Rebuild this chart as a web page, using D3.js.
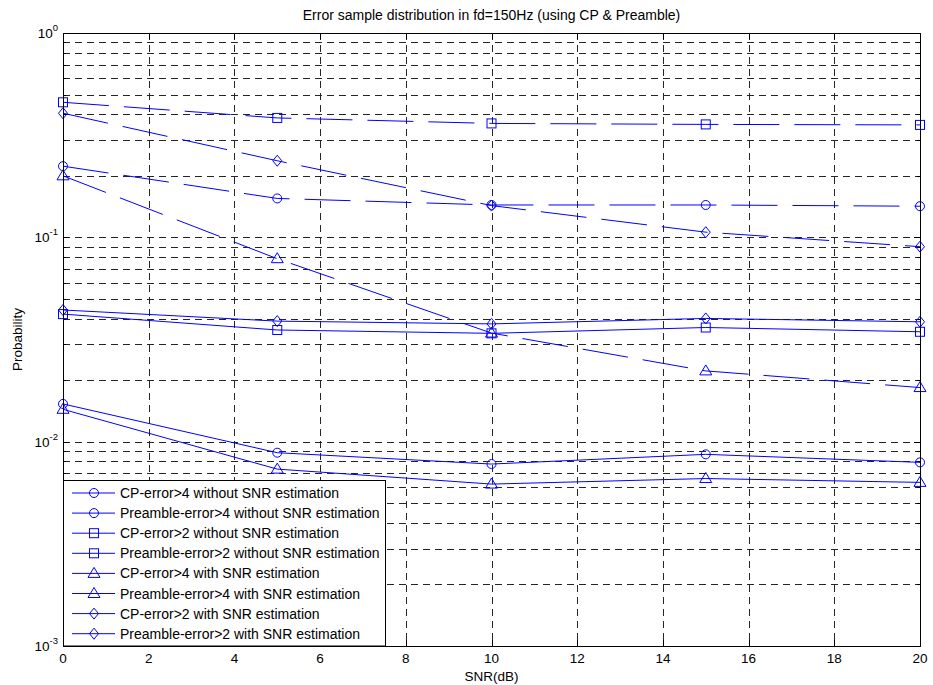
<!DOCTYPE html>
<html>
<head>
<meta charset="utf-8">
<script src="https://cdn.jsdelivr.net/npm/d3@7"></script>
<style>
  body { margin: 0; background: #fff; }
  svg { font-family: "Liberation Sans", Arial, sans-serif; }
</style>
</head>
<body>
<svg id="chart" width="933" height="685"></svg>
<script>
// SNR points (dB)
var snr = [0, 5, 10, 15, 20];

// probabilities
var cp4Without  = [0.0153, 0.00883, 0.00777, 0.00867, 0.00792];
var pre4Without = [0.223, 0.155, 0.144, 0.144, 0.142];
var cp2Without  = [0.0421, 0.0352, 0.0339, 0.0362, 0.0345];
var pre2Without = [0.458, 0.384, 0.361, 0.357, 0.355];
var cp4With     = [0.0144, 0.00734, 0.0062, 0.0066, 0.00632];
var pre4With    = [0.200, 0.0786, 0.034, 0.0222, 0.0184];
var cp2With     = [0.0441, 0.0389, 0.0377, 0.0401, 0.0386];
var pre2With    = [0.405, 0.237, 0.143, 0.106, 0.090];

var seriesNames = [
    "CP-error>4 without SNR estimation",
    "Preamble-error>4 without SNR estimation",
    "CP-error>2 without SNR estimation",
    "Preamble-error>2 without SNR estimation",
    "CP-error>4 with SNR estimation",
    "Preamble-error>4 with SNR estimation",
    "CP-error>2 with SNR estimation",
    "Preamble-error>2 with SNR estimation"
];
var seriesValues = [cp4Without, pre4Without, cp2Without, pre2Without, cp4With, pre4With, cp2With, pre2With];
var seriesMarkers = ["circle", "circle", "square", "square", "triangle", "triangle", "diamond", "diamond"];
var seriesDashed = [false, true, false, true, false, true, false, true];

var xTicks = d3.range(0, 21, 2);
var yDecades = [1e-3, 1e-2, 1e-1, 1e0];

var svg = d3.select("#chart"),
    margin = { top: 33, right: 13, bottom: 39, left: 63 },
    width = 933 - margin.left - margin.right,
    height = 685 - margin.top - margin.bottom;

var x = d3.scaleLinear().domain([0, 20]).range([0, width]);
var y = d3.scaleLog().domain([1e-3, 1]).range([height, 0]);

var g = svg.append("g").attr("transform", "translate(" + margin.left + "," + margin.top + ")");

// minor log values 2..9 per decade
var yMinor = [];
[1e-3, 1e-2, 1e-1].forEach(function(d) {
    for (var k = 2; k <= 9; k++) yMinor.push(d * k);
});

// grid
var grid = g.append("g").attr("class", "grid")
    .attr("stroke", "#000").attr("stroke-width", 1).attr("stroke-dasharray", "7,5").attr("opacity", 0.85);
grid.selectAll("line.gx").data(xTicks.slice(1, -1)).enter().append("line")
    .attr("x1", function(d) { return Math.round(x(d)) + 0.5; })
    .attr("x2", function(d) { return Math.round(x(d)) + 0.5; })
    .attr("y1", 0).attr("y2", height);
grid.selectAll("line.gy").data(yMinor.concat([1e-2, 1e-1])).enter().append("line")
    .attr("y1", function(d) { return Math.round(y(d)) + 0.5; })
    .attr("y2", function(d) { return Math.round(y(d)) + 0.5; })
    .attr("x1", 0).attr("x2", width);

// ticks (inward, all four sides)
var ticks = g.append("g").attr("stroke", "#000").attr("stroke-width", 1);
xTicks.forEach(function(d) {
    var px = Math.round(x(d)) + 0.5;
    ticks.append("line").attr("x1", px).attr("x2", px).attr("y1", height).attr("y2", height - 6);
    ticks.append("line").attr("x1", px).attr("x2", px).attr("y1", 0).attr("y2", 6);
});
yDecades.concat(yMinor).forEach(function(d) {
    var py = Math.round(y(d)) + 0.5,
        len = yDecades.indexOf(d) >= 0 ? 6 : 3;
    ticks.append("line").attr("x1", 0).attr("x2", len).attr("y1", py).attr("y2", py);
    ticks.append("line").attr("x1", width).attr("x2", width - len).attr("y1", py).attr("y2", py);
});

// series
var line = d3.line()
    .x(function(d, i) { return x(snr[i]); })
    .y(function(d) { return y(d); });

function marker(sel, type, cx, cy) {
    if (type === "circle") {
        sel.append("circle").attr("cx", cx).attr("cy", cy).attr("r", 4.5);
    } else if (type === "square") {
        sel.append("rect").attr("x", cx - 4.5).attr("y", cy - 4.5).attr("width", 9).attr("height", 9);
    } else if (type === "triangle") {
        sel.append("path").attr("d", "M" + cx + "," + (cy - 6) + "L" + (cx + 6) + "," + (cy + 4) + "L" + (cx - 6) + "," + (cy + 4) + "Z");
    } else {
        sel.append("path").attr("d", "M" + cx + "," + (cy - 5.5) + "L" + (cx + 4.5) + "," + cy + "L" + cx + "," + (cy + 5.5) + "L" + (cx - 4.5) + "," + cy + "Z");
    }
}

var plot = g.append("g").attr("class", "series");
seriesValues.forEach(function(vals, s) {
    var sg = plot.append("g").attr("fill", "none").attr("stroke", "#0000ff").attr("stroke-width", 1);
    sg.append("path")
        .attr("d", line(vals))
        .attr("stroke-dasharray", seriesDashed[s] ? "46,15" : null);
    vals.forEach(function(v, i) {
        marker(sg, seriesMarkers[s], x(snr[i]), y(v));
    });
});

// legend
var legW = 322, rowH = 20.1, legH = 166;
var leg = g.append("g").attr("transform", "translate(0," + (height - legH) + ")");
leg.append("rect").attr("x", 0.5).attr("y", 0.5).attr("width", legW).attr("height", legH - 0.5)
    .attr("fill", "#fff").attr("stroke", "#000");
seriesNames.forEach(function(name, s) {
    var ry = 13 + s * rowH;
    var eg = leg.append("g").attr("fill", "none").attr("stroke", "#0000ff").attr("stroke-width", 1);
    eg.append("line").attr("x1", 9).attr("x2", 52).attr("y1", ry).attr("y2", ry);
    marker(eg, seriesMarkers[s], 31, ry);
    leg.append("text").attr("x", 57).attr("y", ry + 5)
        .attr("font-size", "14px").attr("fill", "#000").text(name);
});

// axes box
g.append("rect").attr("x", 0.5).attr("y", 0.5).attr("width", width).attr("height", height)
    .attr("fill", "none").attr("stroke", "#000").attr("stroke-width", 1);

// x tick labels
g.selectAll("text.xt").data(xTicks).enter().append("text")
    .attr("x", function(d) { return x(d); })
    .attr("y", height + 17)
    .attr("text-anchor", "middle").attr("font-size", "13.5px").text(function(d) { return d; });

// y tick labels 10^n
yDecades.forEach(function(d) {
    var t = g.append("text").attr("x", -5).attr("y", y(d) + 5)
        .attr("text-anchor", "end").attr("font-size", "13.5px");
    t.append("tspan").text("10");
    t.append("tspan").attr("dy", -7).attr("font-size", "9.5px").text(Math.round(Math.log10(d)));
});

// labels
svg.append("text").attr("x", margin.left + width / 2).attr("y", 681)
    .attr("text-anchor", "middle").attr("font-size", "13.5px").text("SNR(dB)");
svg.append("text").attr("transform", "translate(22," + (margin.top + height / 2) + ") rotate(-90)")
    .attr("text-anchor", "middle").attr("font-size", "13.5px").text("Probability");
svg.append("text").attr("x", margin.left + width / 2).attr("y", 20)
    .attr("text-anchor", "middle").attr("font-size", "14px")
    .text("Error sample distribution in fd=150Hz (using CP & Preamble)");
</script>
</body>
</html>
